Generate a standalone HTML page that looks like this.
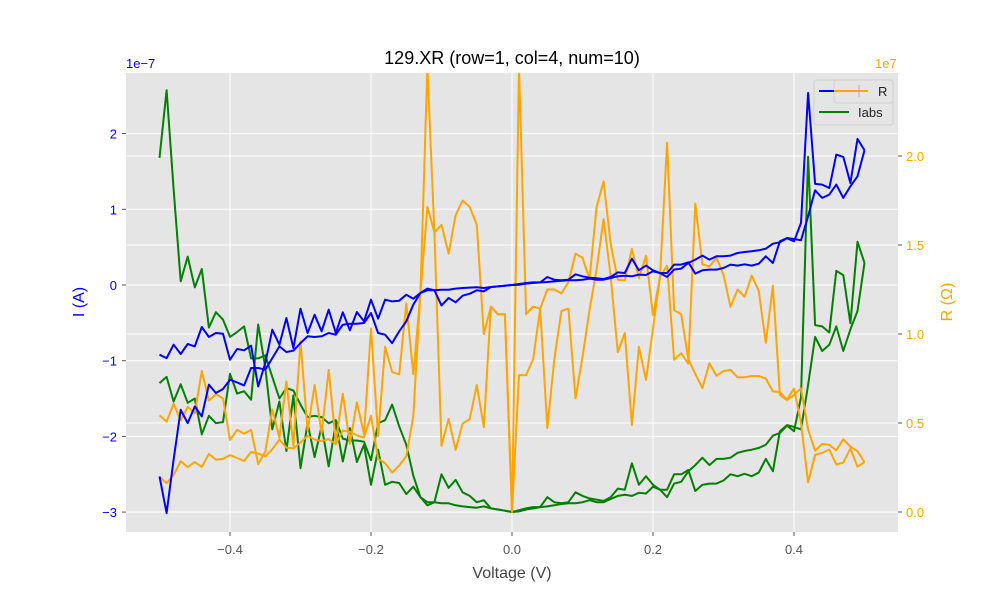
<!DOCTYPE html>
<html><head><meta charset="utf-8"><style>
body{margin:0;background:#fff}
svg{font-family:"Liberation Sans","DejaVu Sans",sans-serif}
</style></head><body>
<svg id="c" width="1000" height="600" viewBox="0 0 1000 600">
<rect x="126" y="73" width="772" height="459" fill="#e5e5e5"/>
<g id="grid"></g>
<g id="series" clip-path="url(#clp)"></g>
<defs><clipPath id="clp"><rect x="126" y="73" width="772" height="459"/></clipPath></defs>
<g id="axes"></g>
<text x="512" y="64" text-anchor="middle" font-size="18" fill="#000">129.XR (row=1, col=4, num=10)</text>
<text x="126" y="68" font-size="13" fill="blue">1e−7</text>
<text x="875" y="68" font-size="13" fill="orange">1e7</text>
<text x="512" y="578" text-anchor="middle" font-size="16" fill="#444">Voltage (V)</text>
<text transform="translate(84,302) rotate(-90)" text-anchor="middle" font-size="16" fill="blue">I (A)</text>
<text transform="translate(952,302) rotate(-90)" text-anchor="middle" font-size="16" fill="orange">R (Ω)</text>
<g>
<rect x="814" y="80" width="79" height="45" rx="3" fill="#e5e5e5" stroke="#ccc" stroke-opacity="0.8"/>
<rect x="834" y="80" width="59" height="23" rx="3" fill="#e5e5e5" stroke="#ccc" stroke-opacity="0.8"/>
<line x1="819" y1="91" x2="834" y2="91" stroke="blue" stroke-width="2"/>
<line x1="834" y1="91" x2="868" y2="91" stroke="orange" stroke-width="2"/>
<line x1="859" y1="85" x2="859" y2="97" stroke="#aaa" stroke-width="1"/>
<text x="878" y="96" font-size="13" fill="#222">R</text>
<line x1="819" y1="112" x2="849" y2="112" stroke="green" stroke-width="2"/>
<text x="858" y="117" font-size="13" fill="#222">Iabs</text>
</g>
</svg>
<script>
const rawA = [845,855,815,843,813,820,762,792,780,782,860,828,832,818,940,870,770,815,735,825,707,780,725,775,710,780,718,772,717,745,680,737,680,685,683,665,677,660,647,652,697,675,688,668,662,652,655,642,640,638,636,
635,632,630,628,627,625,623,622,622,620,617,620,620,615,610,608,610,605,606,595,600,612,590,587,570,560,548,560,550,550,548,540,537,535,532,527,512,508,496,505,450,60,333,335,345,245,252,330,198,232];
const rawB = [1210,1320,1160,1010,1050,1000,1030,935,960,948,920,928,937,885,885,890,855,820,837,833,810,790,792,790,780,785,755,752,752,750,720,780,785,810,775,745,695,660,652,652,650,650,647,645,644,643,645,642,640,638,636,
633,630,628,628,612,620,622,620,604,610,614,616,618,612,598,600,557,592,578,592,600,600,575,575,568,602,592,590,590,585,575,578,574,578,572,550,570,505,495,498,502,430,352,375,365,335,375,340,310,232];
const currentA = rawA.map(z => +((636 - z) / 227).toFixed(3));
const currentB = rawB.map(z => +((636 - z) / 227).toFixed(3));
const voltages = currentA.map((_, i) => +(-0.5 + i * 0.01).toFixed(2));
const xTicks = [-0.4, -0.2, 0, 0.2, 0.4];
const leftTicks = [2, 1, 0, -1, -2, -3];
const rightTicks = [0, 0.5, 1.0, 1.5, 2.0];

const NS = "http://www.w3.org/2000/svg";
const X = v => 512 + v * 705;
const YI = i => 285 - i * 75.7;
const YR = r => 512 - r * 178;
const YA = a => 512 - a * 140;
function el(tag, attrs, parent) { const e = document.createElementNS(NS, tag); for (const k in attrs) e.setAttribute(k, attrs[k]); parent.appendChild(e); return e; }
const grid = document.getElementById('grid'), axes = document.getElementById('axes'), ser = document.getElementById('series');
const fmt = n => (n < 0 ? '−' : '') + Math.abs(n);
xTicks.forEach(t => {
  const l = el('line', {x1: X(t), x2: X(t), y1: 73, y2: 532, stroke: '#fff', 'stroke-width': 1}, grid);
   
  const k = el('line', {x1: X(t), x2: X(t), y1: 532, y2: 536, stroke: '#555'}, axes);
   
  const tx = el('text', {x: X(t), y: 554, 'text-anchor': 'middle', 'font-size': 13, fill: '#555'}, axes);
  tx.textContent = (t < 0 ? '−' : '') + Math.abs(t).toFixed(1);
   
});
leftTicks.forEach(t => {
  const l = el('line', {x1: 126, x2: 898, y1: YI(t), y2: YI(t), stroke: '#fff', 'stroke-width': 1}, grid);
   
  const k = el('line', {x1: 122, x2: 126, y1: YI(t), y2: YI(t), stroke: '#555'}, axes);
   
  const tx = el('text', {x: 117, y: YI(t) + 5, 'text-anchor': 'end', 'font-size': 13, fill: 'blue'}, axes);
  tx.textContent = fmt(t);
   
});
rightTicks.forEach(t => {
  const l = el('line', {x1: 126, x2: 898, y1: YR(t), y2: YR(t), stroke: '#fff', 'stroke-width': 1}, grid);
   
  const k = el('line', {x1: 898, x2: 902, y1: YR(t), y2: YR(t), stroke: '#555'}, axes);
   
  const tx = el('text', {x: 906, y: YR(t) + 5, 'font-size': 13, fill: 'orange'}, axes);
  tx.textContent = t.toFixed(1);
   
});
function line(ys, color, name) {
  const d = ys.map((y, i) => (i ? 'L' : 'M') + X(voltages[i]).toFixed(1) + ',' + y.toFixed(1)).join('');
  const p = el('path', {d: d, fill: 'none', stroke: color, 'stroke-width': 2, 'stroke-linejoin': 'round'}, ser);
   
}
const res = c => c.map((i, k) => voltages[k] === 0 || i === 0 ? 0 : (voltages[k] / (i * 1e-7)) / 1e7);
line(currentA.map(i => YA(Math.abs(i))), 'green', 'iabs-line-a');
line(currentB.map(i => YA(Math.abs(i))), 'green', 'iabs-line-b');
line(res(currentA).map(YR), 'orange', 'r-line-a');
line(res(currentB).map(YR), 'orange', 'r-line-b');
line(currentA.map(YI), 'blue', 'i-line-a');
line(currentB.map(YI), 'blue', 'i-line-b');
</script>
</body></html>
